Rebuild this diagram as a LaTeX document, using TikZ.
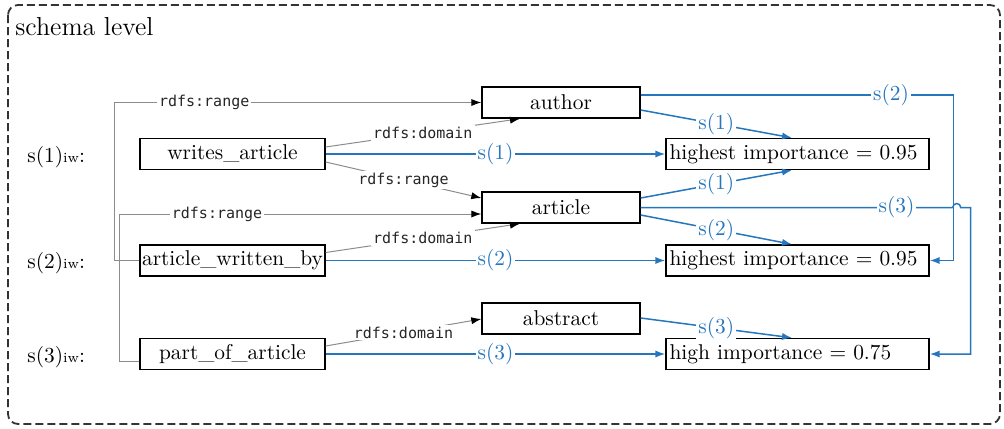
\documentclass[tikz,border=0pt]{standalone}
\usepackage{fontspec}
\newfontfamily\codefont{DejaVu Sans Mono}
\usetikzlibrary{arrows.meta,calc}
\definecolor{linkblue}{RGB}{38,118,190}
\definecolor{relgray}{RGB}{140,140,140}
\newcommand\boxfont{\fontsize{10.7}{12}\selectfont}
\begin{document}
\begin{tikzpicture}[x=0.5pt,y=-0.5pt,
  box/.style={draw=black,line width=0.7pt,inner sep=0pt,minimum height=15.5pt,font=\boxfont},
  pbox/.style={box,minimum width=92.5pt},
  cbox/.style={box,minimum width=79pt},
  ibox/.style={box,minimum width=131.5pt,text width=128pt,align=left},
  rel/.style={draw=relgray,line width=0.5pt,-{Latex[length=5pt,width=3.6pt,color=black]}},
  rlab/.style={fill=white,inner sep=1pt,font=\codefont\fontsize{7.5}{9}\selectfont,text=black!85},
  sim/.style={draw=linkblue,line width=0.75pt,-{Latex[length=5pt,width=3.6pt]}},
  slab/.style={fill=white,inner sep=1pt,text=linkblue,font=\boxfont},
  weight/.style={anchor=base west,inner sep=0pt,font=\boxfont},
  frame/.style={draw=black!80,line width=0.9pt,dash pattern=on 4pt off 2pt,rounded corners=5pt}]
\useasboundingbox (0,0) rectangle (1004,428);
\draw[frame] (8,5) rectangle (1000,424);
\node[anchor=base west,inner sep=0pt,font=\fontsize{13}{15}\selectfont] (title) at (15,35) {schema level};

% properties
\node[pbox] (wa)  at (232.5,154)   {writes\_article};
\node[pbox] (awb) at (232.5,260.5) {article\_written\_by};
\node[pbox] (poa) at (232.5,354)   {part\_of\_article};

% classes
\node[cbox] (author)   at (561,102.5) {author};
\node[cbox] (article)  at (561,207.5) {article};
\node[cbox] (abstract) at (561,318.5) {abstract};

% importance levels
\node[ibox] (h1) at (797.5,154)   {highest importance = 0.95};
\node[ibox] (h2) at (797.5,260.5) {highest importance = 0.95};
\node[ibox] (h3) at (797.5,354)   {high importance = 0.75};

% weights
\node[weight] (w1) at (27,162) {s(1){\fontsize{7}{8}\selectfont iw}:};
\node[weight] (w2) at (27,268) {s(2){\fontsize{7}{8}\selectfont iw}:};
\node[weight] (w3) at (27,362) {s(3){\fontsize{7}{8}\selectfont iw}:};

% schema relations
\draw[rel] (awb.west) -- ++(-25,0) coordinate (k1) -- (k1 |- author.west)
  -- node[rlab,pos=0.245]{rdfs:range} (author.west);
\draw[rel] ($(poa.west)+(0,7.5)$) -- ++(-20,0) coordinate (k2)
  -- (k2 |- {$(article.west)+(0,6.5)$}) coordinate (k3)
  -- node[rlab,pos=0.27]{rdfs:range} ($(article.west)+(0,6.5)$);
\draw[rel] ($(wa.east)+(0,-7)$) -- node[rlab]{rdfs:domain} ($(author.south)+(-41,0)$);
\draw[rel] ($(wa.east)+(0,8)$) -- node[rlab]{rdfs:range} ($(article.west)+(0,-9.5)$);
\draw[rel] ($(awb.east)+(0,-8)$) -- node[rlab]{rdfs:domain} ($(article.south)+(-41,0)$);
\draw[rel] ($(poa.east)+(0,-8)$) -- node[rlab]{rdfs:domain} ($(abstract.west)+(0,0.5)$);

% similarity links
\draw[sim] (wa.east)  -- node[slab]{s(1)} (h1.west);
\draw[sim] (awb.east) -- node[slab]{s(2)} (h2.west);
\draw[sim] (poa.east) -- node[slab]{s(3)} (h3.west);
\draw[sim] ($(author.east)+(0,7.5)$) -- node[slab]{s(1)} ($(h1.north)+(-5.5,0)$);
\draw[sim] ($(article.east)+(0,-9.5)$) -- node[slab]{s(1)} ($(h1.south)+(-5.5,0)$);
\draw[sim] ($(article.east)+(0,7.5)$) -- node[slab]{s(2)} ($(h2.north)+(-5.5,0)$);
\draw[sim] ($(abstract.east)+(0,-0.5)$) -- node[slab]{s(3)} ($(h3.north)+(-5.5,0)$);
\draw[sim] ($(author.east)+(0,-7.5)$) -- node[slab,pos=0.8]{s(2)} ++(313,0) |- (h2.east);
\draw[sim] (article.east) -- node[slab,pos=0.82]{s(3)} ++(312,0)
  arc[start angle=180,end angle=0,radius=2pt] -- ++(10,0) |- (h3.east);
\end{tikzpicture}
\end{document}
